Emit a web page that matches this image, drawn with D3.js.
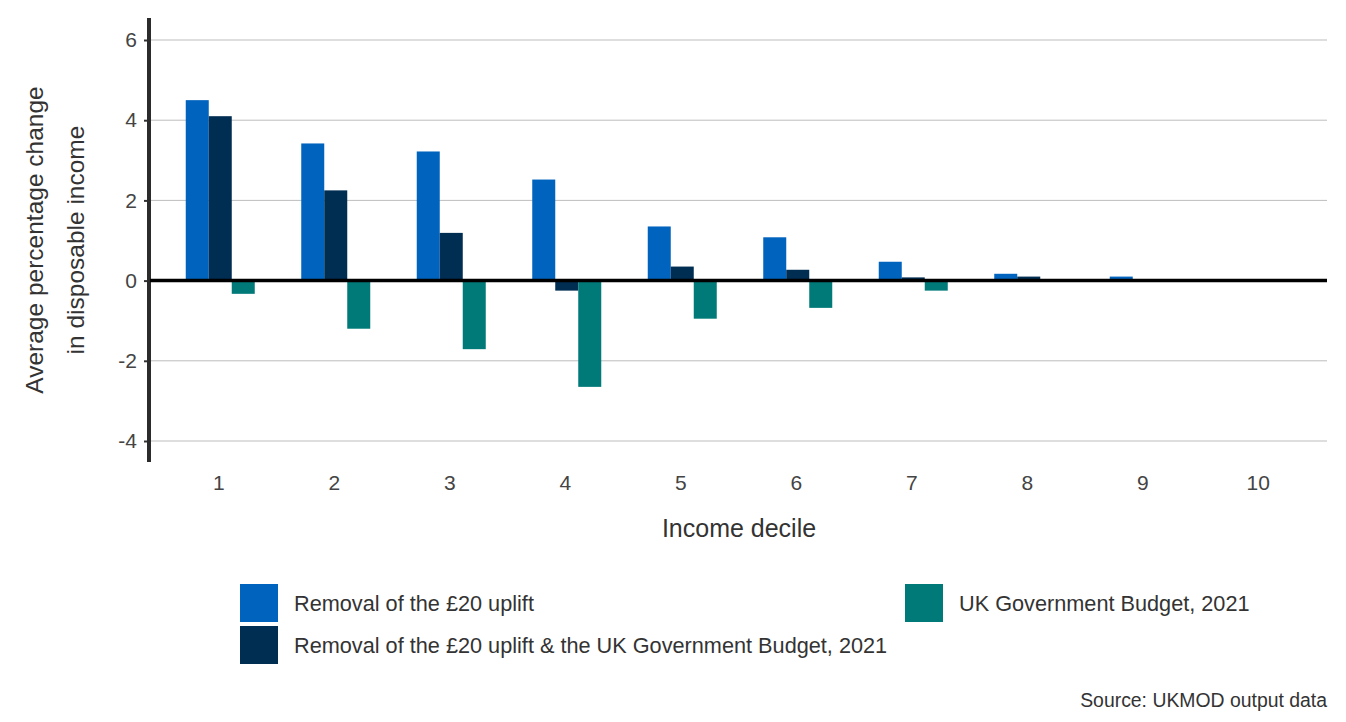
<!DOCTYPE html>
<html>
<head>
<meta charset="utf-8">
<script src="https://cdn.jsdelivr.net/npm/d3@7"></script>
<style>
  body { margin: 0; background: #fff; }
  svg { font-family: "Liberation Sans", Arial, sans-serif; }
</style>
</head>
<body>
<div id="chart"></div>
<script>
const WIDTH = 1346, HEIGHT = 722;

// Data
const deciles = ["1", "2", "3", "4", "5", "6", "7", "8", "9", "10"];
const removalUplift = [4.5, 3.42, 3.22, 2.52, 1.35, 1.08, 0.47, 0.17, 0.1, 0.01];
const removalAndBudget = [4.1, 2.25, 1.19, -0.25, 0.35, 0.27, 0.08, 0.1, 0.02, 0.0];
const govBudget = [-0.33, -1.2, -1.71, -2.65, -0.95, -0.68, -0.25, -0.02, -0.01, 0.0];
const yTicks = [-4, -2, 0, 2, 4, 6];

const seriesNames = ["Removal of the £20 uplift",
    "Removal of the £20 uplift & the UK Government Budget, 2021",
    "UK Government Budget, 2021"];
const seriesColors = ["#0063be", "#002d52", "#007a78"];

let series = [removalUplift, removalAndBudget, govBudget];

let svg = d3.select("#chart")
    .append("svg")
    .attr("width", WIDTH)
    .attr("height", HEIGHT);

let x = d3.scaleBand()
    .domain(deciles)
    .range([161, 1316]);

let xInner = d3.scaleBand()
    .domain(d3.range(series.length))
    .range([x.bandwidth() / 2 - 33, x.bandwidth() / 2 + 36]);

let y = d3.scaleLinear()
    .domain([-4, 6])
    .range([441, 40]);

// Gridlines
svg.append("g")
    .selectAll("line")
    .data(yTicks.filter(d => d !== 0))
    .enter().append("line")
    .attr("x1", 150)
    .attr("x2", 1327)
    .attr("y1", d => y(d))
    .attr("y2", d => y(d))
    .style("stroke", "#bdbdbd")
    .style("stroke-width", 1);

// Y axis
let yAxis = svg.append("g")
    .attr("transform", "translate(149,0)")
    .call(d3.axisLeft(y).tickValues(yTicks).tickSize(5).tickPadding(7).tickFormat(d => String(d)));
yAxis.select(".domain").remove();
yAxis.selectAll(".tick line").style("stroke", "#333").style("stroke-width", 2);
yAxis.selectAll(".tick text")
    .style("font-size", "21px")
    .style("fill", "#444")
    .style("font-family", "Liberation Sans, Arial, sans-serif");

svg.append("line")
    .attr("x1", 149).attr("x2", 149)
    .attr("y1", 18).attr("y2", 462)
    .style("stroke", "#2b2b2b")
    .style("stroke-width", 4);

// Bars
let groups = svg.append("g")
    .selectAll("g")
    .data(deciles)
    .enter().append("g")
    .attr("transform", d => `translate(${x(d)},0)`);

groups.selectAll("rect")
    .data((d, i) => series.map((s, k) => ({k: k, v: s[i]})))
    .enter().append("rect")
    .attr("x", d => xInner(d.k))
    .attr("width", xInner.bandwidth())
    .attr("y", d => y(Math.max(0, d.v)))
    .attr("height", d => Math.abs(y(d.v) - y(0)))
    .attr("fill", d => seriesColors[d.k]);

// Zero line
svg.append("line")
    .attr("x1", 150).attr("x2", 1327)
    .attr("y1", y(0)).attr("y2", y(0))
    .style("stroke", "#000")
    .style("stroke-width", 3.5);

// X axis labels
let xAxis = svg.append("g")
    .attr("transform", "translate(0,469)")
    .call(d3.axisBottom(x).tickSize(0).tickPadding(6));
xAxis.select(".domain").remove();
xAxis.selectAll(".tick text")
    .style("font-size", "21px")
    .style("fill", "#444")
    .style("font-family", "Liberation Sans, Arial, sans-serif");

// Axis titles
svg.append("text")
    .attr("x", 739)
    .attr("y", 537)
    .style("text-anchor", "middle")
    .style("font-size", "25px")
    .style("fill", "#333")
    .text("Income decile");

let yTitle = svg.append("text")
    .attr("transform", "translate(0,240) rotate(-90)")
    .style("text-anchor", "middle")
    .style("font-size", "24.5px")
    .style("fill", "#333");
yTitle.append("tspan").attr("x", 0).attr("y", 43).text("Average percentage change");
yTitle.append("tspan").attr("x", 0).attr("y", 84).text("in disposable income");

// Legend
const legendPos = [[240, 584], [240, 626], [905, 584]];
let legend = svg.append("g")
    .selectAll("g")
    .data(seriesNames)
    .enter().append("g")
    .attr("transform", (d, i) => `translate(${legendPos[i][0]},${legendPos[i][1]})`);

legend.append("rect")
    .attr("width", 38)
    .attr("height", 38)
    .attr("fill", (d, i) => seriesColors[i]);

legend.append("text")
    .attr("x", 54)
    .attr("y", 27)
    .style("font-size", "21.7px")
    .style("fill", "#333")
    .text(d => d);

// Source
svg.append("text")
    .attr("x", 1327)
    .attr("y", 707)
    .style("text-anchor", "end")
    .style("font-size", "19.4px")
    .style("fill", "#333")
    .text("Source: UKMOD output data");
</script>
</body>
</html>
